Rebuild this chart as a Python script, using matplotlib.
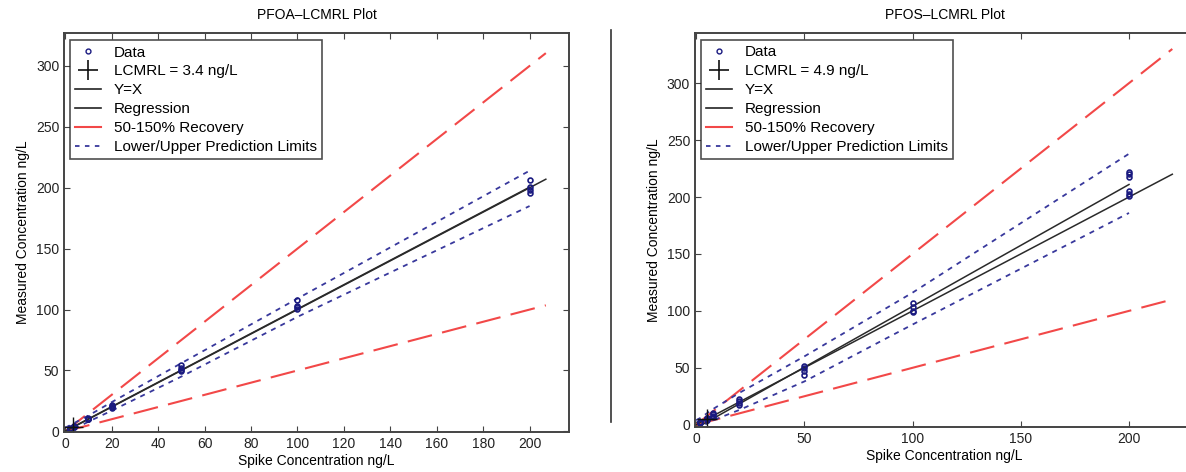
import matplotlib
matplotlib.use("Agg")
import matplotlib.pyplot as plt
from matplotlib.lines import Line2D

plt.rcParams['font.family'] = ['Liberation Sans', 'DejaVu Sans']

# ---- PFOA ----
pfoa_x = [2, 2, 2, 2, 4, 4, 4, 4, 10, 10, 10, 10, 20, 20, 20, 20,
          50, 50, 50, 50, 100, 100, 100, 100, 200, 200, 200, 200]
pfoa_y = [2.0, 2.2, 1.8, 2.4, 4.1, 3.8, 4.4, 4.0, 10.2, 10.8, 9.9, 10.5,
          20.1, 20.9, 19.6, 21.3, 50.5, 52.0, 54.5, 49.8,
          100.5, 101.8, 102.6, 108.2, 195.5, 198.0, 201.0, 206.5]
pfoa_lcmrl = 3.4
pfoa_line_x = [0, 207]          # Y=X and recovery lines
pfoa_reg_x = [0, 200]
pfoa_reg_y = [0.3, 200.5]
pfoa_pl_x = [0, 2, 4, 10, 20, 50, 100, 200]
pfoa_pl_up = [3, 5, 7, 13, 24, 56, 109, 214]
pfoa_pl_lo = [-2, 0, 2, 8, 17, 45, 94, 185]

# ---- PFOS ----
pfos_x = [2, 2, 2, 2, 5, 5, 5, 5, 8, 8, 8, 8, 20, 20, 20, 20,
          50, 50, 50, 50, 100, 100, 100, 100, 200, 200, 200, 200, 200, 200]
pfos_y = [1.8, 2.3, 2.0, 2.6, 4.6, 5.5, 5.0, 6.0, 7.0, 8.0, 9.5, 10.0,
          17.0, 19.0, 21.0, 23.0, 44.0, 47.0, 50.0, 52.0,
          99.0, 100.0, 103.0, 107.0, 218.0, 220.0, 222.0, 201.0, 203.0, 205.0]
pfos_lcmrl = 4.9
pfos_line_x = [0, 220]
pfos_reg_x = [0, 200]
pfos_reg_y = [-3, 211]
pfos_pl_x = [0, 2, 5, 8, 20, 50, 100, 200]
pfos_pl_up = [4, 6, 10, 14, 28, 60, 116, 238]
pfos_pl_lo = [-4, -2, 1, 4, 13, 38, 88, 186]

red = '#f24848'
blue = '#38389c'
spine_c = '#444444'


def draw_panel(ax, title, x, y, lcmrl, line_x, reg_x, reg_y, pl_x, pl_up, pl_lo,
               xlim, ylim, xticks):
    # recovery lines 50 / 150 %
    ax.plot(line_x, [v * 1.5 for v in line_x], color=red, lw=1.5, dashes=(12, 5))
    ax.plot(line_x, [v * 0.5 for v in line_x], color=red, lw=1.5, dashes=(12, 5))
    # prediction limits
    ax.plot(pl_x, pl_up, color=blue, lw=1.3, dashes=(2.8, 3))
    ax.plot(pl_x, pl_lo, color=blue, lw=1.3, dashes=(2.8, 3))
    # y=x and regression
    ax.plot(line_x, line_x, color='#2a2a2a', lw=1.1)
    ax.plot(reg_x, reg_y, color='#2a2a2a', lw=1.1)
    ax.plot(x, y, 'o', ms=3.5, mfc='none', mec='#1a1a80', mew=1.2)
    ax.plot([lcmrl], [lcmrl], '+', color='#111111', ms=14, mew=1.0)

    ax.set_xlim(*xlim)
    ax.set_ylim(*ylim)
    ax.set_xticks(xticks)
    ax.set_yticks(range(0, 301, 50))
    ax.tick_params(direction='in', top=True, right=True, length=4,
                   labelsize=10, colors=spine_c, labelcolor='#222222')
    for s in ax.spines.values():
        s.set_color(spine_c)
        s.set_linewidth(1.4)
    ax.set_title(title, fontsize=10, pad=10)
    ax.set_xlabel('Spike Concentration ng/L', fontsize=10, labelpad=2)
    ax.set_ylabel('Measured Concentration ng/L', fontsize=10)

    handles = [
        Line2D([], [], ls='none', marker='o', ms=3.5, mfc='none', mec='#1a1a80'),
        Line2D([], [], ls='none', marker='+', ms=14, color='#111111', mew=1.2),
        Line2D([], [], color='#222222', lw=1.2),
        Line2D([], [], color='#222222', lw=1.2),
        Line2D([], [], color=red, lw=1.5),
        Line2D([], [], color=blue, lw=1.3, dashes=(2.5, 3)),
    ]
    labels = ['Data', 'LCMRL = %.1f ng/L' % lcmrl, 'Y=X', 'Regression',
              '50-150% Recovery', 'Lower/Upper Prediction Limits']
    leg = ax.legend(handles, labels, loc='upper left', bbox_to_anchor=(0.012, 0.982),
                    borderaxespad=0, fontsize=11, frameon=True, fancybox=False,
                    handlelength=1.7, handletextpad=0.8, labelspacing=0.32,
                    borderpad=0.35)
    leg.get_frame().set_edgecolor('#222222')
    leg.get_frame().set_linewidth(1.2)


fig = plt.figure(figsize=(11.86, 4.72), dpi=100)
ax1 = fig.add_axes([0.054, 0.0847, 0.4258, 0.8453])
ax2 = fig.add_axes([0.586, 0.0953, 0.4207, 0.8347])

draw_panel(ax1, 'PFOA\u2013LCMRL Plot', pfoa_x, pfoa_y, pfoa_lcmrl, pfoa_line_x,
           pfoa_reg_x, pfoa_reg_y, pfoa_pl_x, pfoa_pl_up, pfoa_pl_lo,
           (-0.5, 217), (-0.5, 327), range(0, 201, 20))
draw_panel(ax2, 'PFOS\u2013LCMRL Plot', pfos_x, pfos_y, pfos_lcmrl, pfos_line_x,
           pfos_reg_x, pfos_reg_y, pfos_pl_x, pfos_pl_up, pfos_pl_lo,
           (-0.5, 230), (-2, 344), range(0, 201, 50))

# separator between the two panels
fig.add_artist(Line2D([0.515, 0.515], [0.106, 0.936], color='#333333', lw=1.2))

fig.savefig('out.png', dpi=100)
